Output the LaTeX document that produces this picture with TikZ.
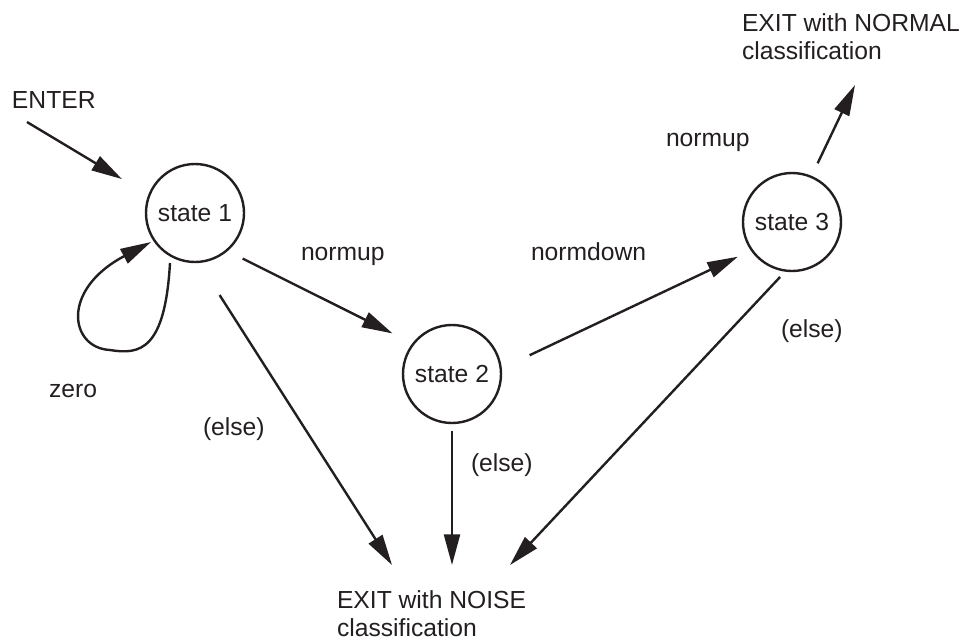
\documentclass[tikz,border=0pt]{standalone}
\usepackage{fontspec}
\setmainfont{Liberation Sans}
\usetikzlibrary{arrows.meta,calc}
\definecolor{ink}{HTML}{231F20}
\begin{document}
\begin{tikzpicture}[x=0.75pt,y=-0.75pt,
  every node/.style={text=ink,font=\fontsize{18.5}{21}\selectfont,inner sep=0pt,outer sep=0pt},
  state/.style={draw=ink,circle,line width=1.8pt,minimum size=73.5pt},
  lbl/.style={anchor=base west},
  exitlbl/.style={anchor=north west,align=left},
  conn/.style={draw=ink,line width=1.8pt,-{Triangle[length=23pt,width=12pt]}}]
\useasboundingbox (0,0) rectangle (971,643);

% states
\node[state] (s1) at (195,213) {state 1};
\node[state] (s2) at (452,374) {state 2};
\node[state] (s3) at (792,222) {state 3};

% entry and exit texts
\node[lbl] (enter) at (12,108) {ENTER};
\node[exitlbl] (normal) at (742,14) {EXIT with NORMAL\\classification};
\node[exitlbl] (noise) at (337,591) {EXIT with NOISE\\classification};

% transition labels
\node[lbl] (lzero) at (49,397) {zero};
\node[lbl] (lup1) at (301,260) {normup};
\node[lbl] (ldown) at (531,260) {normdown};
\node[lbl] (lup2) at (666,146) {normup};
\node[lbl] (lelse1) at (203,435) {(else)};
\node[lbl] (lelse2) at (471,471) {(else)};
\node[lbl] (lelse3) at (781,337) {(else)};

% free ends of connectors
\coordinate (entry) at (27,122);
\coordinate (tnormal) at (855,85);
\coordinate (tn1) at (392,565);
\coordinate (tn2) at (452,565);
\coordinate (tn3) at (510,565);

% connectors
\draw[conn,shorten >=23.9pt] (entry) -- (s1.159);
\draw[conn] ($(s1)+(-25,50)$) .. controls ($(s1)+(-30,137)$) and ($(s1)+(-55,142)$) .. ($(s1)+(-85,137)$)
  .. controls ($(s1)+(-125,135)$) and ($(s1)+(-135,77)$) .. ($(s1)+(-44,29)$);
\draw[conn,shorten <=13.5pt,shorten >=17.5pt] (s1.-50.8) -- (s2.142.9);
\draw[conn,shorten <=24pt,shorten >=11.6pt] (s2.6.1) -- (s3.215.4);
\draw[conn,shorten <=11.3pt] (s3.67.9) -- (tnormal);
\draw[conn,shorten <=29.5pt] (s1.-86.7) -- (tn1);
\draw[conn,shorten <=6pt] (s2.south) -- (tn2);
\draw[conn,shorten <=6.5pt] (s3.263) -- (tn3);
\end{tikzpicture}
\end{document}
